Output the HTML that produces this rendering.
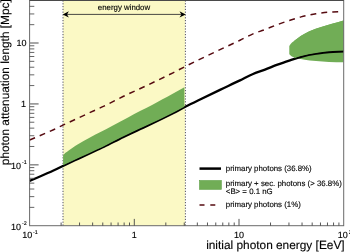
<!DOCTYPE html><html><head><meta charset="utf-8"><title>photon attenuation length</title>
<style>html,body{margin:0;padding:0;background:#fff;overflow:hidden}svg{display:block;will-change:transform}text{font-family:"Liberation Sans",Arial,Helvetica,sans-serif;fill:#000;stroke:#000;stroke-width:0.12px;text-rendering:geometricPrecision}</style></head><body>
<svg width="350" height="252" viewBox="0 0 350 252">
<rect width="350" height="252" fill="#fff"/>
<rect x="63.10" y="0" width="122.05" height="225.70" fill="#fbf9c5"/>
<line x1="63.00" y1="0.4" x2="63.00" y2="225.70" stroke="#505062" stroke-width="1" stroke-dasharray="1.2 1.6"/>
<line x1="185.40" y1="0.4" x2="185.40" y2="225.70" stroke="#505062" stroke-width="1" stroke-dasharray="1.2 1.6"/>
<path d="M289.30,45.90 C290.20,44.77 291.10,43.38 292.00,42.50 C293.57,40.97 295.13,40.07 296.70,38.90 C298.03,37.91 299.37,36.85 300.70,36.00 C303.60,34.15 306.50,32.46 309.40,31.20 C313.60,29.38 317.80,28.15 322.00,26.80 C325.33,25.73 328.67,24.78 332.00,23.80 C335.83,22.67 339.67,21.60 343.50,20.50 L343.50,62.30 C338.67,62.17 333.83,62.09 329.00,61.90 C324.67,61.73 320.33,61.41 316.00,61.10 C313.93,60.95 311.87,60.82 309.80,60.60 C306.30,60.22 302.80,59.50 299.30,58.70 C296.83,58.14 294.37,57.69 291.90,56.50 C291.03,56.08 290.17,54.97 289.30,54.20 Z" fill="#71ad56"/>
<path d="M29.60,140.00 C37.73,136.50 45.87,133.23 54.00,129.49 C56.97,128.12 59.93,126.58 62.90,125.17 C68.27,122.61 73.63,120.12 79.00,117.63 C85.33,114.68 91.67,111.77 98.00,108.84 C100.00,107.92 102.00,107.02 104.00,106.06 C110.33,103.03 116.67,99.59 123.00,96.53 C131.33,92.50 139.67,88.87 148.00,84.92 C156.33,80.97 164.67,76.99 173.00,72.81 C177.10,70.75 181.20,68.52 185.30,66.45 C189.53,64.32 193.77,62.25 198.00,60.20 C205.33,56.63 212.67,53.16 220.00,49.67 C226.67,46.51 233.33,43.46 240.00,40.25 C244.17,38.24 248.33,35.84 252.50,34.09 C256.67,32.34 260.83,31.12 265.00,29.53 C269.17,27.95 273.33,26.10 277.50,24.58 C281.67,23.05 285.83,21.68 290.00,20.32 C293.67,19.12 297.33,17.78 301.00,16.86 C306.00,15.61 311.00,14.59 316.00,13.81 C320.33,13.14 324.67,12.44 329.00,12.16 C332.53,11.93 336.07,11.85 339.60,11.69" fill="none" stroke="#560b11" stroke-width="1.5" stroke-dasharray="5.9 5.1"/>
<path d="M29.60,180.90 C37.73,177.37 45.87,174.08 54.00,170.30 C56.97,168.92 59.93,167.38 62.90,165.95 C68.27,163.37 73.63,160.87 79.00,158.35 C85.33,155.38 91.67,152.45 98.00,149.50 C100.00,148.57 102.00,147.66 104.00,146.70 C110.33,143.65 116.67,140.18 123.00,137.10 C131.33,133.04 139.67,129.38 148.00,125.40 C156.33,121.42 164.67,117.41 173.00,113.20 C177.10,111.13 181.20,108.88 185.30,106.80 C189.53,104.65 193.77,102.57 198.00,100.50 C205.33,96.91 212.67,93.41 220.00,89.90 C226.67,86.71 233.33,83.64 240.00,80.40 C244.17,78.37 248.33,75.96 252.50,74.20 C256.67,72.44 260.83,71.20 265.00,69.60 C269.17,68.00 273.33,66.14 277.50,64.60 C281.67,63.06 285.83,61.68 290.00,60.30 C293.67,59.09 297.33,57.73 301.00,56.80 C306.00,55.53 311.00,54.50 316.00,53.70 C320.33,53.01 324.67,52.31 329.00,52.00 C333.90,51.65 338.80,51.53 343.70,51.30" fill="none" stroke="#000" stroke-width="2.3"/>
<path d="M63.10,155.30 C63.90,154.47 64.70,153.50 65.50,152.80 C66.57,151.86 67.63,151.17 68.70,150.40 C70.13,149.36 71.57,148.36 73.00,147.40 C74.67,146.29 76.33,145.21 78.00,144.20 C82.00,141.78 86.00,139.57 90.00,137.40 C93.33,135.59 96.67,133.94 100.00,132.20 C104.00,130.11 108.00,128.01 112.00,125.90 C117.33,123.08 122.67,120.22 128.00,117.40 C132.17,115.19 136.33,112.95 140.50,110.80 C144.67,108.65 148.83,106.71 153.00,104.50 C156.00,102.91 159.00,101.15 162.00,99.50 C165.57,97.54 169.13,95.64 172.70,93.70 C176.60,91.58 180.50,89.43 184.40,87.30 L184.40,106.72 C180.60,108.70 176.80,110.73 173.00,112.65 C164.67,116.86 156.33,120.87 148.00,124.85 C139.67,128.83 131.33,132.49 123.00,136.55 C116.67,139.63 110.33,143.10 104.00,146.15 C102.00,147.11 100.00,148.02 98.00,148.95 C91.67,151.90 85.33,154.83 79.00,157.80 C73.70,160.29 68.40,162.80 63.10,165.31 Z" fill="#71ad56"/>
<path d="M294.50,40.59 C295.23,40.02 295.97,39.45 296.70,38.90 C298.03,37.90 299.37,36.85 300.70,36.00 C303.60,34.15 306.50,32.46 309.40,31.20 C313.60,29.38 317.80,28.15 322.00,26.80 C325.33,25.73 328.67,24.78 332.00,23.80 C335.83,22.67 339.67,21.60 343.50,20.50 L343.50,50.61 C338.67,50.84 333.83,50.96 329.00,51.30 C324.67,51.61 320.33,52.31 316.00,53.00 C311.00,53.80 306.00,54.81 301.00,56.10 C298.83,56.66 296.67,57.48 294.50,58.17 Z" fill="#71ad56"/>
<rect x="29.60" y="0.3" width="314.10" height="225.40" fill="none" stroke="#6a6a6a" stroke-width="1"/>
<line x1="29.60" y1="0.4" x2="343.70" y2="0.4" stroke="#444" stroke-width="1"/>
<line x1="29.60" y1="207.37" x2="34.30" y2="207.37" stroke="#555" stroke-width="0.9"/>
<line x1="29.60" y1="196.64" x2="34.30" y2="196.64" stroke="#555" stroke-width="0.9"/>
<line x1="29.60" y1="189.03" x2="34.30" y2="189.03" stroke="#555" stroke-width="0.9"/>
<line x1="29.60" y1="183.13" x2="34.30" y2="183.13" stroke="#555" stroke-width="0.9"/>
<line x1="29.60" y1="178.31" x2="34.30" y2="178.31" stroke="#555" stroke-width="0.9"/>
<line x1="29.60" y1="174.23" x2="34.30" y2="174.23" stroke="#555" stroke-width="0.9"/>
<line x1="29.60" y1="170.70" x2="34.30" y2="170.70" stroke="#555" stroke-width="0.9"/>
<line x1="29.60" y1="167.59" x2="34.30" y2="167.59" stroke="#555" stroke-width="0.9"/>
<line x1="29.60" y1="164.80" x2="38.60" y2="164.80" stroke="#8a8a8a" stroke-width="1.5"/>
<line x1="29.60" y1="146.47" x2="34.30" y2="146.47" stroke="#555" stroke-width="0.9"/>
<line x1="29.60" y1="135.74" x2="34.30" y2="135.74" stroke="#555" stroke-width="0.9"/>
<line x1="29.60" y1="128.13" x2="34.30" y2="128.13" stroke="#555" stroke-width="0.9"/>
<line x1="29.60" y1="122.23" x2="34.30" y2="122.23" stroke="#555" stroke-width="0.9"/>
<line x1="29.60" y1="117.41" x2="34.30" y2="117.41" stroke="#555" stroke-width="0.9"/>
<line x1="29.60" y1="113.33" x2="34.30" y2="113.33" stroke="#555" stroke-width="0.9"/>
<line x1="29.60" y1="109.80" x2="34.30" y2="109.80" stroke="#555" stroke-width="0.9"/>
<line x1="29.60" y1="106.69" x2="34.30" y2="106.69" stroke="#555" stroke-width="0.9"/>
<line x1="29.60" y1="103.90" x2="38.60" y2="103.90" stroke="#8a8a8a" stroke-width="1.5"/>
<line x1="29.60" y1="85.57" x2="34.30" y2="85.57" stroke="#555" stroke-width="0.9"/>
<line x1="29.60" y1="74.84" x2="34.30" y2="74.84" stroke="#555" stroke-width="0.9"/>
<line x1="29.60" y1="67.23" x2="34.30" y2="67.23" stroke="#555" stroke-width="0.9"/>
<line x1="29.60" y1="61.33" x2="34.30" y2="61.33" stroke="#555" stroke-width="0.9"/>
<line x1="29.60" y1="56.51" x2="34.30" y2="56.51" stroke="#555" stroke-width="0.9"/>
<line x1="29.60" y1="52.43" x2="34.30" y2="52.43" stroke="#555" stroke-width="0.9"/>
<line x1="29.60" y1="48.90" x2="34.30" y2="48.90" stroke="#555" stroke-width="0.9"/>
<line x1="29.60" y1="45.79" x2="34.30" y2="45.79" stroke="#555" stroke-width="0.9"/>
<line x1="29.60" y1="43.00" x2="38.60" y2="43.00" stroke="#8a8a8a" stroke-width="1.5"/>
<line x1="29.60" y1="24.67" x2="34.30" y2="24.67" stroke="#555" stroke-width="0.9"/>
<line x1="29.60" y1="13.94" x2="34.30" y2="13.94" stroke="#555" stroke-width="0.9"/>
<line x1="29.60" y1="6.33" x2="34.30" y2="6.33" stroke="#555" stroke-width="0.9"/>
<line x1="61.12" y1="225.70" x2="61.12" y2="222.50" stroke="#444" stroke-width="0.9"/>
<line x1="79.55" y1="225.70" x2="79.55" y2="222.50" stroke="#444" stroke-width="0.9"/>
<line x1="92.64" y1="225.70" x2="92.64" y2="222.50" stroke="#444" stroke-width="0.9"/>
<line x1="102.78" y1="225.70" x2="102.78" y2="222.50" stroke="#444" stroke-width="0.9"/>
<line x1="111.07" y1="225.70" x2="111.07" y2="222.50" stroke="#444" stroke-width="0.9"/>
<line x1="118.08" y1="225.70" x2="118.08" y2="222.50" stroke="#444" stroke-width="0.9"/>
<line x1="124.15" y1="225.70" x2="124.15" y2="222.50" stroke="#444" stroke-width="0.9"/>
<line x1="129.51" y1="225.70" x2="129.51" y2="222.50" stroke="#444" stroke-width="0.9"/>
<line x1="134.30" y1="225.70" x2="134.30" y2="218.90" stroke="#444" stroke-width="0.9"/>
<line x1="165.82" y1="225.70" x2="165.82" y2="222.50" stroke="#444" stroke-width="0.9"/>
<line x1="184.25" y1="225.70" x2="184.25" y2="222.50" stroke="#444" stroke-width="0.9"/>
<line x1="197.34" y1="225.70" x2="197.34" y2="222.50" stroke="#444" stroke-width="0.9"/>
<line x1="207.48" y1="225.70" x2="207.48" y2="222.50" stroke="#444" stroke-width="0.9"/>
<line x1="215.77" y1="225.70" x2="215.77" y2="222.50" stroke="#444" stroke-width="0.9"/>
<line x1="222.78" y1="225.70" x2="222.78" y2="222.50" stroke="#444" stroke-width="0.9"/>
<line x1="228.85" y1="225.70" x2="228.85" y2="222.50" stroke="#444" stroke-width="0.9"/>
<line x1="234.21" y1="225.70" x2="234.21" y2="222.50" stroke="#444" stroke-width="0.9"/>
<line x1="239.00" y1="225.70" x2="239.00" y2="218.90" stroke="#444" stroke-width="0.9"/>
<line x1="270.52" y1="225.70" x2="270.52" y2="222.50" stroke="#444" stroke-width="0.9"/>
<line x1="288.95" y1="225.70" x2="288.95" y2="222.50" stroke="#444" stroke-width="0.9"/>
<line x1="302.04" y1="225.70" x2="302.04" y2="222.50" stroke="#444" stroke-width="0.9"/>
<line x1="312.18" y1="225.70" x2="312.18" y2="222.50" stroke="#444" stroke-width="0.9"/>
<line x1="320.47" y1="225.70" x2="320.47" y2="222.50" stroke="#444" stroke-width="0.9"/>
<line x1="327.48" y1="225.70" x2="327.48" y2="222.50" stroke="#444" stroke-width="0.9"/>
<line x1="333.55" y1="225.70" x2="333.55" y2="222.50" stroke="#444" stroke-width="0.9"/>
<line x1="338.91" y1="225.70" x2="338.91" y2="222.50" stroke="#444" stroke-width="0.9"/>
<text x="26.60" y="46.10" text-anchor="end" font-size="9">10</text>
<text x="26.00" y="107.00" text-anchor="end" font-size="9">1</text>
<text x="26.60" y="168.60" text-anchor="end" font-size="9">10<tspan font-size="5.3" dy="-4.6" dx="0.9">-1</tspan></text>
<text x="26.60" y="229.50" text-anchor="end" font-size="9">10<tspan font-size="5.3" dy="-4.6" dx="0.9">-2</tspan></text>
<text x="30.00" y="238.1" text-anchor="middle" font-size="9">10<tspan font-size="5.3" dy="-4.6" dx="0.9">-1</tspan></text>
<text x="134.30" y="238.1" text-anchor="middle" font-size="9">1</text>
<text x="239.00" y="238.1" text-anchor="middle" font-size="9">10</text>
<text x="337.8" y="238.1" font-size="9">10<tspan font-size="5.3" dy="-4.6" dx="0.9">2</tspan></text>
<text x="344.6" y="249.1" text-anchor="end" font-size="11.87">initial photon energy [EeV]</text>
<text transform="translate(8.8,165.2) rotate(-90)" font-size="11.85">photon attenuation length [Mpc]</text>
<line x1="66.00" y1="14.40" x2="182.40" y2="14.40" stroke="#333" stroke-width="0.9"/>
<path d="M62.70,14.40 l6.2,-3.2 l-1.9,3.2 l1.9,3.2 Z" fill="#000"/>
<path d="M185.70,14.40 l-6.2,-3.2 l1.9,3.2 l-1.9,3.2 Z" fill="#000"/>
<text x="124" y="10.3" text-anchor="middle" font-size="7.85">energy window</text>
<line x1="199.5" y1="168.6" x2="221" y2="168.6" stroke="#000" stroke-width="2.5"/>
<text x="225.8" y="171.1" font-size="7.85">primary photons (36.8%)</text>
<rect x="199.6" y="180.6" width="21.7" height="8.7" fill="#71ad56" stroke="#63a34b" stroke-width="0.7"/>
<text x="225.8" y="185.7" font-size="7.85">primary + sec. photons (&gt; 36.8%)</text>
<text x="225.8" y="194.4" font-size="7.85">&lt;B&gt; = 0.1 nG</text>
<line x1="199.5" y1="205" x2="221" y2="205" stroke="#560b11" stroke-width="1.5" stroke-dasharray="5 5.8"/>
<text x="225.8" y="207" font-size="7.85">primary photons (1%)</text>
</svg></body></html>
